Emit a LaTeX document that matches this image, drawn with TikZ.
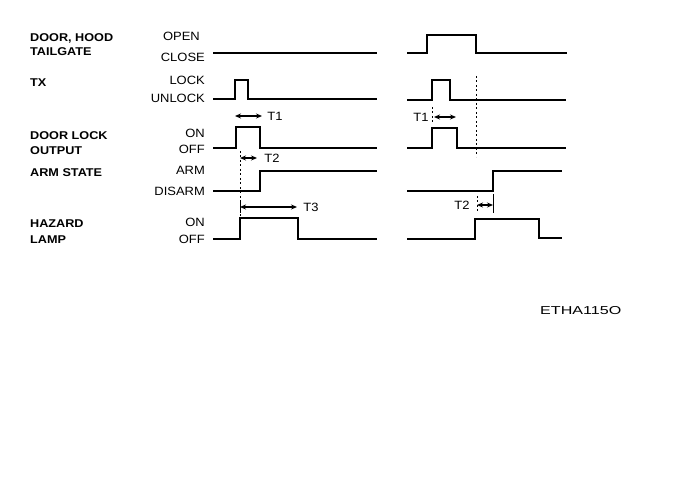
\documentclass[tikz,border=0pt]{standalone}
\usepackage{fontspec}
\setmainfont{Liberation Sans}
\newfontfamily\labfont[FakeStretch=1.08]{Liberation Sans}
\newfontfamily\boldlab[FakeStretch=1.12]{Liberation Sans Bold}
\newfontfamily\codefont[FakeStretch=1.4]{Liberation Sans}
\usetikzlibrary{arrows.meta}
\begin{document}
\begin{tikzpicture}[x=1pt,y=-1pt,
  sig/.style={line width=1.7pt,line join=miter},
  signame/.style={anchor=base west,inner sep=0pt,font=\boldlab\fontsize{11.3}{13}\selectfont},
  statelab/.style={anchor=base east,inner sep=0pt,font=\labfont\fontsize{12}{14}\selectfont},
  tlab/.style={inner sep=0pt,font=\labfont\fontsize{12}{14}\selectfont},
  dim/.style={line width=1.1pt,{Stealth[length=6pt,width=5pt]}-{Stealth[length=6pt,width=5pt]}},
  guide/.style={line width=0.7pt,dash pattern=on 2pt off 2.5pt},
  tickline/.style={line width=0.8pt}]
\useasboundingbox[fill=white] (0,0) rectangle (688,494);

% signal names
\node[signame] (nDoor) at (30,41.5) {DOOR, HOOD};
\node[signame] (nTail) at (30,56) {TAILGATE};
\node[signame] (nTx) at (30,86.5) {TX};
\node[signame] (nLock) at (30,139.5) {DOOR LOCK};
\node[signame] (nOut) at (30,155) {OUTPUT};
\node[signame] (nArm) at (30,176.5) {ARM STATE};
\node[signame] (nHaz) at (30,227.5) {HAZARD};
\node[signame] (nLamp) at (30,244) {LAMP};

% state names
\node[statelab] (sOpen) at (200,40.5) {OPEN};
\node[statelab] (sClose) at (205,61.5) {CLOSE};
\node[statelab] (sLock) at (205,85) {LOCK};
\node[statelab] (sUnlock) at (205,102.5) {UNLOCK};
\node[statelab] (sOn) at (205,137.5) {ON};
\node[statelab] (sOff) at (205,153.5) {OFF};
\node[statelab] (sArm) at (205,174.5) {ARM};
\node[statelab] (sDisarm) at (205,195.5) {DISARM};
\node[statelab] (sOn2) at (205,226.5) {ON};
\node[statelab] (sOff2) at (205,243.5) {OFF};

% ---------- left panel ----------
\draw[sig] (213,53) -- (377,53);
\draw[sig] (213,99) -- (235,99) -- (235,80) -- (248,80) -- (248,99) -- (377,99);
\draw[sig] (213,148) -- (236,148) -- (236,127) -- (260,127) -- (260,148) -- (377,148);
\draw[sig] (213,191) -- (260,191) -- (260,171) -- (377,171);
\draw[sig] (213,239) -- (240,239) -- (240,218) -- (298,218) -- (298,239) -- (377,239);

\draw[dim] (235,116) -- (262,116);
\node[tlab] (t1a) at (275,116) {T1};
\draw[guide] (240,151) -- (240,239);
\draw[dim] (240,158) -- (257,158);
\node[tlab] (t2a) at (272,158) {T2};
\draw[tickline] (240,200) -- (240,213);
\draw[dim] (240,207) -- (297,207);
\node[tlab] (t3a) at (311,207) {T3};

% ---------- right panel ----------
\draw[sig] (407,53) -- (427,53) -- (427,35) -- (476,35) -- (476,53) -- (567,53);
\draw[sig] (407,100) -- (432,100) -- (432,80) -- (450,80) -- (450,100) -- (566,100);
\draw[sig] (407,148) -- (432,148) -- (432,128) -- (457,128) -- (457,148) -- (566,148);
\draw[sig] (407,191) -- (493,191) -- (493,171) -- (562,171);
\draw[sig] (407,239) -- (475,239) -- (475,219) -- (539,219) -- (539,238) -- (562,238);

\draw[guide] (476,76) -- (476,157);
\draw[guide] (432,107) -- (432,124);
\draw[dim] (434,117) -- (456,117);
\node[tlab] (t1b) at (421,117) {T1};
\draw[guide] (477,196) -- (477,213);
\draw[tickline] (493,194) -- (493,213);
\draw[dim] (477,205) -- (493,205);
\node[tlab] (t2b) at (462,205) {T2};

% figure code
\node[anchor=base west,inner sep=0pt,font=\codefont\fontsize{11.5}{13}\selectfont] (code) at (540,315) {ETHA115O};
\end{tikzpicture}
\end{document}
